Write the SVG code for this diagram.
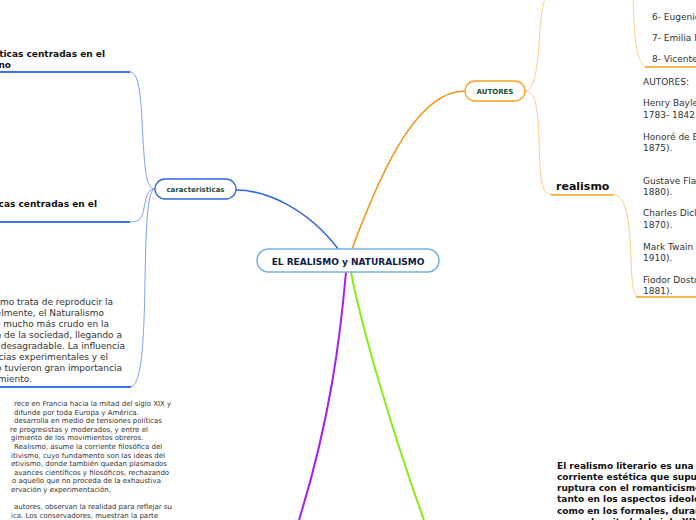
<svg xmlns="http://www.w3.org/2000/svg" width="696" height="520" viewBox="0 0 696 520">
<style>
text{font-family:"DejaVu Sans",Verdana,sans-serif}
.n{font-size:9px;fill:#333}
.s{font-size:7px;fill:#333}
.b{font-size:9px;font-weight:bold;fill:#111}
.lbl{font-size:7px;font-weight:bold;fill:#1b4d3e;text-anchor:middle}
.bl{fill:none;stroke:#7ea3f2;stroke-width:1}
.bu{fill:none;stroke:#3f73ea;stroke-width:2}
.ol{fill:none;stroke:#fccf8c;stroke-width:1}
.ou{fill:none;stroke:#f6a21e;stroke-width:1.6}
</style>
<rect width="696" height="520" fill="#fff"/>
<g id="connectors">
<path d="M236,190 C262,190 305,205 339,250" fill="none" stroke="#2f66ea" stroke-width="1.6"/>
<path d="M352,249 C385,160 420,91 465,91" fill="none" stroke="#f7941d" stroke-width="1.6"/>
<path d="M346,272 C340,340 330,420 299,520" fill="none" stroke="#a51ef0" stroke-width="2"/>
<path d="M351,272 C362,330 395,440 424,520" fill="none" stroke="#86ee10" stroke-width="2"/>
<path class="bl" d="M155,189 C146,189 145,170 143,140 C141,100 140,72 130,72"/>
<path class="bl" d="M155,189 C146,189 146,200 144,208 C142,219 139,222 130,222"/>
<path class="bl" d="M155,189 C147,189 146,230 145,280 C144,340 142,387 130,387"/>
<path class="bu" d="M130,72 L0,72"/>
<path class="bu" d="M130,222 L0,222"/>
<path class="bu" d="M131,387 L0,387"/>
<path class="ol" d="M525,91 C536,91 538,60 540,30 C541,15 543,4 545,-2"/>
<path class="ol" d="M525,91 C536,91 538,110 539,140 C540,180 541,195 553,195"/>
<path class="ou" d="M551,195 L614,195"/>
<path class="ol" d="M614,195 C628,195 630,230 631,260 C632,290 634,297 640,297"/>
<path class="ou" d="M636,297 L696,297"/>
<path class="ol" d="M633,-2 C634,30 635,67 648,67"/>
<path class="ou" d="M645,67 L696,67"/>
</g>
<g id="center">
<rect x="257" y="249" width="182" height="23" rx="11.5" fill="#fff" stroke="#79b0df" stroke-width="1.5"/>
<text x="348" y="264.5" text-anchor="middle" style="font-size:9px;font-weight:bold;fill:#0f2146">EL REALISMO y NATURALISMO</text>
</g>
<g id="caracteristicas">
<rect x="155" y="179" width="81" height="20" rx="10" fill="#fff" stroke="#2f66ea" stroke-width="1.3"/>
<text class="lbl" x="195.5" y="192">caracteristicas</text>
</g>
<g id="autores">
<rect x="465" y="81" width="60" height="20" rx="10" fill="#fff" stroke="#f6a21e" stroke-width="1.3"/>
<text class="lbl" x="495" y="94">AUTORES</text>
</g>
<g id="left1">
<text class="b" x="105" y="56.5" text-anchor="end">ticas centradas en el</text>
<text class="b" x="11" y="67.5" text-anchor="end">no</text>
</g>
<g id="left2">
<text class="b" x="97" y="206.5" text-anchor="end">ticas centradas en el</text>
</g>
<g id="left3">
<text class="n" x="113" y="305" text-anchor="end">mo trata de reproducir la</text>
<text class="n" x="104" y="316" text-anchor="end">elmente, el Naturalismo</text>
<text class="n" x="109" y="327" text-anchor="end">mucho más crudo en la</text>
<text class="n" x="122" y="338" text-anchor="end">n de la sociedad, llegando a</text>
<text class="n" x="125" y="349" text-anchor="end">desagradable. La influencia</text>
<text class="n" x="108" y="360" text-anchor="end">cias experimentales y el</text>
<text class="n" x="122" y="371" text-anchor="end">o tuvieron gran importancia</text>
<text class="n" x="32" y="382" text-anchor="end">miento.</text>
</g>
<g id="left4">
<text class="s" x="14" y="406">rece en Francia hacia la mitad del siglo XIX y</text>
<text class="s" x="14" y="414.6">difunde por toda Europa y América.</text>
<text class="s" x="14" y="423.2">desarrolla en medio de tensiones políticas</text>
<text class="s" x="10" y="431.8">re progresistas y moderados, y entre el</text>
<text class="s" x="11" y="440.4">gimiento de los movimientos obreros.</text>
<text class="s" x="14" y="449">Realismo, asume la corriente filosófica del</text>
<text class="s" x="11" y="457.6">itivismo, cuyo fundamento son las ideas del</text>
<text class="s" x="11" y="466.2">etivismo, donde también quedan plasmados</text>
<text class="s" x="14" y="474.8">avances científicos y filosóficos, rechazando</text>
<text class="s" x="12" y="483.4">o aquello que no proceda de la exhaustiva</text>
<text class="s" x="11" y="492">ervación y experimentación.</text>
<text class="s" x="14" y="509.2">autores, observan la realidad para reflejar su</text>
<text class="s" x="11" y="517.8">ica. Los conservadores, muestran la parte</text>
</g>
<g id="naturalismo-autores">
<text class="n" x="652" y="20">6- Eugenio</text>
<text class="n" x="652" y="41">7- Emilia Pardo</text>
<text class="n" x="652" y="62">8- Vicente Blasco</text>
</g>
<g id="realismo">
<text x="556" y="190" style="font-size:11px;font-weight:bold;fill:#111">realismo</text>
</g>
<g id="realismo-autores">
<text class="n" x="643" y="85">AUTORES:</text>
<text class="n" x="643" y="106">Henry Bayle</text>
<text class="n" x="643" y="118">1783- 1842</text>
<text class="n" x="643" y="140">Honoré de Balzac</text>
<text class="n" x="643" y="151">1875).</text>
<text class="n" x="643" y="184">Gustave Flaubert</text>
<text class="n" x="643" y="195">1880).</text>
<text class="n" x="643" y="216">Charles Dickens</text>
<text class="n" x="643" y="228">1870).</text>
<text class="n" x="643" y="250">Mark Twain</text>
<text class="n" x="643" y="261">1910).</text>
<text class="n" x="643" y="283">Fiodor Dostoievski</text>
<text class="n" x="643" y="294">1881).</text>
</g>
<g id="definicion">
<text class="b" x="557" y="468.5">El realismo literario es una</text>
<text class="b" x="557" y="479.8">corriente estética que supuso</text>
<text class="b" x="557" y="491.1">ruptura con el romanticismo</text>
<text class="b" x="557" y="502.4">tanto en los aspectos ideológicos</text>
<text class="b" x="557" y="513.7">como en los formales, durante la</text>
<text class="b" x="557" y="525">segunda mitad del siglo XIX</text>
</g>
</svg>
